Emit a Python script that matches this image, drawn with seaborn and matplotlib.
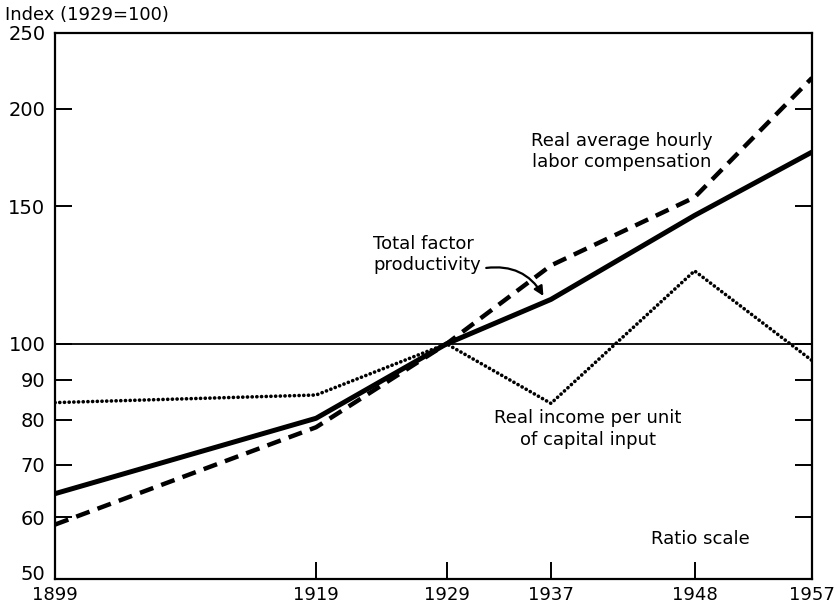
import matplotlib
matplotlib.use("Agg")
import matplotlib.pyplot as plt
import matplotlib.transforms as mtransforms
import seaborn as sns
import pandas as pd
import numpy as np

# ---- data ----
years = [1899, 1919, 1929, 1937, 1948, 1957]
total_factor_productivity = [64.3, 80.3, 100, 114, 146, 176]
real_hourly_labor_comp = [58.7, 78.2, 100, 126, 154, 219]
real_income_capital = [84.1, 86.0, 100, 83.9, 124, 95.2]

y_ticks = [50, 60, 70, 80, 90, 100, 150, 200, 250]
y_tick_labels = ["50", "60", "70", "80", "90", "100", "150", "200", "250"]
x_tick_labels = ["1899", "1919", "1929", "1937", "1948", "1957"]

sns.set_style("ticks")
plt.rcParams["font.family"] = ["DejaVu Sans"]

fig = plt.figure(figsize=(8.39, 6.07), dpi=100)
ax = fig.add_axes([55 / 839, 1 - 579 / 607, (812 - 55) / 839, (579 - 33) / 607])

df_tfp = pd.DataFrame({"year": years, "value": total_factor_productivity})
df_lab = pd.DataFrame({"year": years, "value": real_hourly_labor_comp})
df_cap = pd.DataFrame({"year": years, "value": real_income_capital})

sns.lineplot(data=df_lab, x="year", y="value", ax=ax, color="black",
             linewidth=3.2, linestyle=(0, (3.2, 1.9)), dash_capstyle="butt")
sns.lineplot(data=df_tfp, x="year", y="value", ax=ax, color="black",
             linewidth=3.6, solid_capstyle="butt")
sns.lineplot(data=df_cap, x="year", y="value", ax=ax, color="black",
             linewidth=2.6, linestyle=(0, (0.05, 1.25)), dash_capstyle="round")

ax.axhline(100, color="black", linewidth=1.3, zorder=1)

ax.set_yscale("log")
ax.set_ylim(50, 250)
ax.set_xlim(1899, 1957)
ax.set_yticks(y_ticks)
ax.set_yticklabels(y_tick_labels)
ax.yaxis.set_minor_locator(matplotlib.ticker.NullLocator())
ax.set_xticks(years)
ax.set_xticklabels(x_tick_labels)
ax.set_xlabel("")
ax.set_ylabel("")

for s in ax.spines.values():
    s.set_visible(True)
    s.set_linewidth(1.6)
    s.set_color("black")

ax.tick_params(axis="both", which="major", direction="in", length=12,
               width=1.4, colors="black")
ax.tick_params(axis="y", right=True, left=True, pad=7, labelsize=14)
ax.tick_params(axis="x", top=False, bottom=True, pad=5, labelsize=13)

# nudge the lowest y label up slightly so it does not collide with "1899"
lbl50 = ax.get_yticklabels()[0]
lbl50.set_transform(lbl50.get_transform() +
                    mtransforms.ScaledTranslation(0, 6 / 100, fig.dpi_scale_trans))

txt_kw = dict(fontsize=13, color="black", transform=ax.transAxes)
ax.text(0.749, 0.783, "Real average hourly\nlabor compensation",
        ha="center", va="center", linespacing=1.25, **txt_kw)
ax.text(0.420, 0.594, "Total factor\nproductivity",
        ha="left", va="center", linespacing=1.25, **txt_kw)
ax.text(0.704, 0.275, "Real income per unit\nof capital input",
        ha="center", va="center", linespacing=1.25, **txt_kw)
ax.text(0.852, 0.073, "Ratio scale", ha="center", va="center", **txt_kw)

ax.annotate("", xy=(0.647, 0.514), xycoords="axes fraction",
            xytext=(0.566, 0.569), textcoords="axes fraction",
            arrowprops=dict(arrowstyle="-|>", color="black", lw=1.6,
                            mutation_scale=14,
                            connectionstyle="arc3,rad=-0.35"))

fig.text(5 / 839, 1 - 15 / 607, "Index (1929=100)", fontsize=13,
         ha="left", va="center", color="black")

fig.savefig("out.png", dpi=100)
